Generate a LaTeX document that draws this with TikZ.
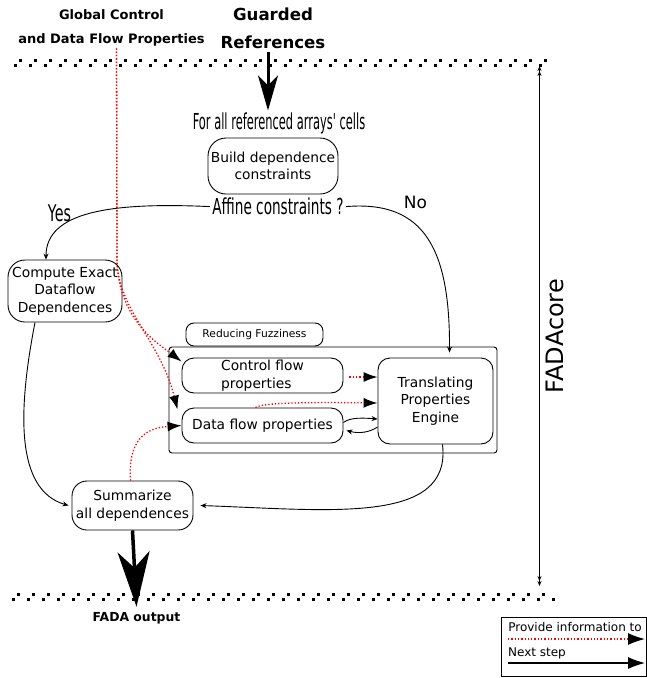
\documentclass[tikz,border=0pt]{standalone}
\usepackage{fontspec}
\setmainfont{DejaVu Sans}
\newfontfamily\narrowfont[FakeStretch=0.52]{DejaVu Sans}
\newfontfamily\condfont[FakeStretch=0.62]{DejaVu Sans}
\usetikzlibrary{arrows.meta}

\begin{document}
\begin{tikzpicture}[x=1pt, y=-1pt, line width=0.9pt,
		box/.style={draw, rounded corners=12pt, align=center, inner sep=0pt, font=\fontsize{13.8}{17.5}\selectfont},
		label/.style={inner sep=2pt, align=center},
		flow/.style={draw, -{Stealth[length=6pt, width=5pt]}},
		info/.style={draw=red, line width=1.3pt, dash pattern=on 1.3pt off 2pt, -{Latex[length=14pt, width=10pt, color=black]}},
		bigflow/.style={draw, line width=3pt, -{Stealth[length=35pt, width=20pt, inset=10pt]}},
		edge/.style={draw, line width=3pt, dash pattern=on 3pt off 12pt}]
	\useasboundingbox (0, 0) rectangle (647, 678);
		\node[label, font=\bfseries\fontsize{13}{24}\selectfont] (global) at (111.5, 27.6) {Global Control\\and Data Flow Properties};
		\node[label, font=\bfseries\fontsize{16.6}{28}\selectfont] (guarded) at (273, 28.7) {Guarded\\References};
		\node[label, font=\narrowfont\fontsize{22}{26}\selectfont] (cells) at (279, 123.6) {For all referenced arrays' cells};
		\node[box, rounded corners=18pt, minimum width=130, minimum height=56] (build) at (273, 166) {Build dependence\\constraints};
		\node[label, font=\condfont\fontsize{22}{26}\selectfont] (affine) at (278, 206.6) {Affine constraints ?};
		\node[label, font=\condfont\fontsize{23}{27}\selectfont] (yes) at (59.5, 213.6) {Yes};
		\node[label, font=\fontsize{17}{20}\selectfont] (no) at (415.5, 202) {No};
		\node[box, rounded corners=17pt, minimum width=114, minimum height=62] (compute) at (65, 291) {Compute Exact\\Dataflow\\Dependences};
		\node[box, rounded corners=8pt, minimum width=137, minimum height=23, font=\fontsize{10.7}{13}\selectfont] (reducing) at (254.5, 334.5) {Reducing Fuzziness};
		\node[draw, rounded corners=3pt, minimum width=328, minimum height=106] (fuzzy) at (333, 400) {};
		\node[box, align=left, minimum width=161, minimum height=35] (control) at (262.5, 375.5) {Control flow\\properties};
		\node[box, minimum width=161, minimum height=35] (data) at (262.5, 425.5) {Data flow properties};
		\node[box, minimum width=115, minimum height=86] (engine) at (435.5, 401) {Translating\\Properties\\Engine};
		\node[box, rounded corners=15pt, minimum width=121, minimum height=49] (summarize) at (132.5, 505.5) {Summarize\\all dependences};
		\node[label, inner sep=0pt, font=\bfseries\fontsize{12.4}{15}\selectfont] (output) at (136.5, 618) {FADA output};
		\node[label, rotate=90, font=\fontsize{24}{28}\selectfont] (core) at (555, 336) {FADAcore};
		\coordinate (core_top) at (539.5, 66);
		\coordinate (core_bottom) at (539.5, 586);
		\node[draw, minimum width=145, minimum height=59, inner sep=0pt] (legend) at (573.5, 646.5) {};
		\node[label, font=\fontsize{12}{14}\selectfont] (provide) at (575, 627) {Provide information to};
		\node[label, font=\fontsize{12}{14}\selectfont] (next) at (537, 653) {Next step};
		\coordinate (provide_start) at (508, 639);
		\coordinate (provide_end) at (645, 639);
		\coordinate (next_start) at (508, 663);
		\coordinate (next_end) at (645, 663);
		\path [edge] (14, 65) -- (553, 65);
		\path [edge] (19, 60) -- (553, 60);
		\path [edge] (12, 599) -- (556, 599);
		\path [edge] (17, 594) -- (556, 594);
		\path [draw, {Stealth[length=5pt, width=4pt] Stealth[length=5pt, width=4pt]}-{Stealth[length=5pt, width=4pt] Stealth[length=5pt, width=4pt]}] (core_top) -- (core_bottom);
		\path [bigflow] ([xshift=-5pt]guarded.south) -- ([xshift=-5pt]guarded.south |- cells.north);
		\path [flow] (affine.west) .. controls (110, 202) and (46, 212) .. ([xshift=-19pt]compute.north);
		\path [flow] (affine.east) .. controls (425, 200) and (450, 250) .. ([xshift=14pt, yshift=5pt]engine.north);
		\path [flow] ([xshift=-30pt]compute.south) .. controls (18, 410) and (15, 490) .. ([xshift=-3pt]summarize.west);
		\path [flow] ([xshift=7pt]engine.south) .. controls (452, 525) and (330, 510) .. ([xshift=7pt]summarize.east);
		\path [flow] ([yshift=3pt]data.east) .. controls (350, 417) and (365, 418) .. ([yshift=-18pt]engine.west);
		\path [flow] ([yshift=-26pt]engine.west) .. controls (370, 432) and (360, 434) .. ([xshift=3pt, yshift=-5pt]data.east);
		\path [info] ([xshift=5pt]global.south) -- (117, 260) .. controls (118, 320) and (160, 345) .. ([yshift=-4pt]control.north west);
		\path [info] ([xshift=5pt]global.south) -- (117, 260) .. controls (118, 310) and (160, 340) .. ([xshift=-4pt, yshift=-2pt]data.north west);
		\path [info] ([xshift=-2pt]summarize.north) .. controls (128, 440) and (145, 428) .. (data.west);
		\path [info] ([xshift=6pt, yshift=-1.5pt]control.east) -- ([yshift=-1.5pt]engine.west |- control.east);
		\path [info] ([xshift=-7pt]data.north) .. controls (262, 403) and (300, 402) .. ([yshift=-2pt]engine.west);
		\path [bigflow, line width=3.5pt, -{Stealth[length=55pt, width=32pt, inset=16pt]}] (summarize.south) -- ([yshift=5pt]output.north);
		\path [info, -{Latex[length=17pt, width=12pt, color=black]}] (provide_start) -- (provide_end);
		\path [draw, line width=1.2pt, -{Latex[length=17pt, width=12pt]}] (next_start) -- (next_end);
	\end{tikzpicture}
\end{document}
